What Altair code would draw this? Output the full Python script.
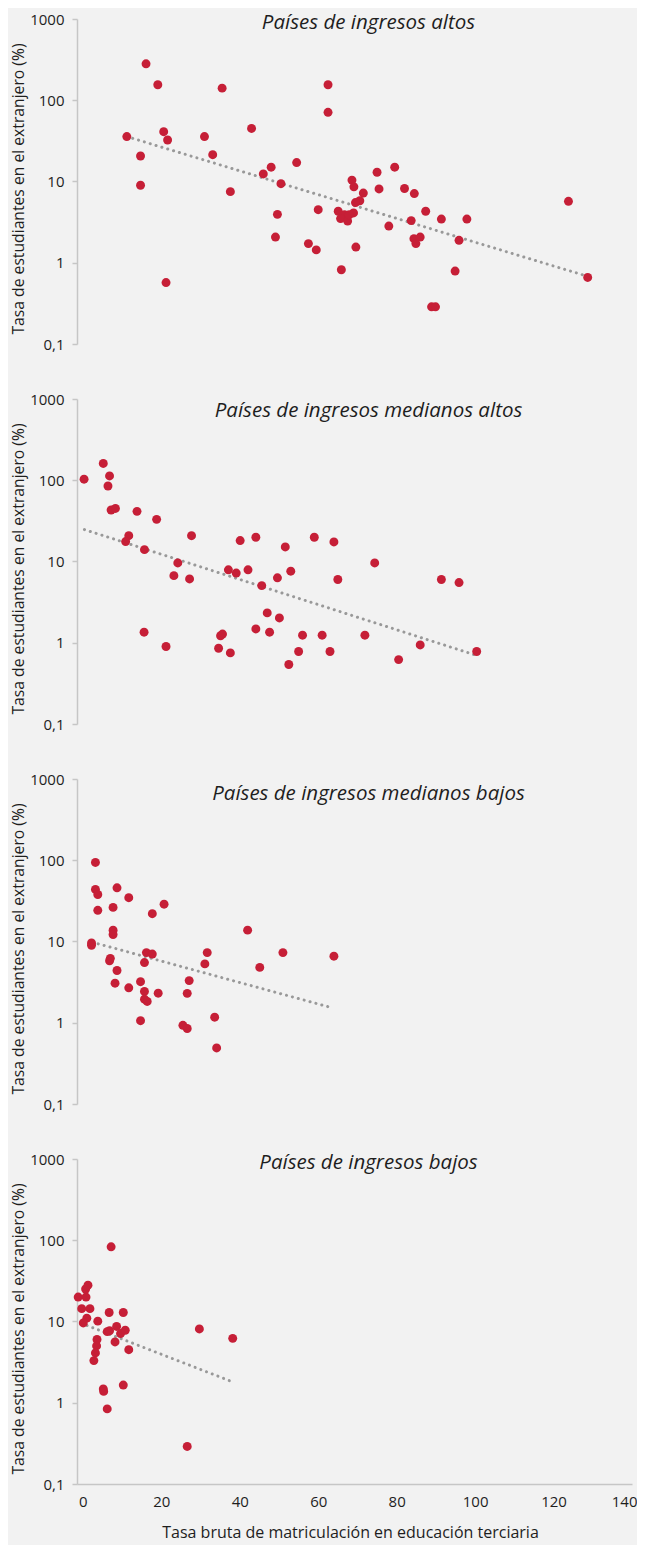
import altair as alt
import pandas as pd

# ---- data ----
titles = [
    "Países de ingresos altos",
    "Países de ingresos medianos altos",
    "Países de ingresos medianos bajos",
    "Países de ingresos bajos",
]

x_altos = [16.1, 19.1, 35.5, 62.5, 62.5, 11.2, 20.6, 21.6, 31.0, 43.0, 14.7, 33.1, 14.7, 37.6, 46.0,
           48.0, 50.5, 54.5, 49.6, 49.1, 57.5, 59.5, 60.0, 21.2, 65.9, 68.6, 69.1, 71.5, 70.6, 69.5,
           69.0, 65.1, 66.7, 65.7, 67.5, 67.9, 69.6, 75.0, 79.5, 75.5, 82.0, 84.5, 78.0, 83.7, 87.4,
           84.4, 86.0, 84.9, 91.4, 97.9, 95.9, 94.9, 88.9, 89.9, 123.8, 128.7]
y_altos = [281, 155, 141, 155, 71, 35.7, 41, 32.4, 35.7, 45, 20.6, 21.4, 9.0, 7.5, 12.4,
           15.0, 9.4, 17.1, 3.94, 2.07, 1.72, 1.44, 4.5, 0.57, 0.82, 10.4, 8.6, 7.2, 5.8, 5.5,
           4.1, 4.3, 3.9, 3.5, 3.26, 3.9, 1.56, 13.0, 15.0, 8.1, 8.2, 7.1, 2.83, 3.3, 4.3,
           1.98, 2.07, 1.72, 3.45, 3.45, 1.89, 0.79, 0.287, 0.287, 5.7, 0.66]

x_med_altos = [0.3, 5.2, 6.8, 6.4, 7.2, 8.3, 13.8, 18.8, 11.7, 10.9, 15.7, 27.7, 24.2, 23.2, 27.2,
               15.6, 21.2, 37.1, 39.1, 40.1, 42.1, 44.1, 45.6, 34.6, 35.1, 35.6, 37.6, 44.1, 47.6, 47.0,
               50.1, 49.6, 51.6, 53.0, 52.5, 55.0, 56.0, 59.0, 61.0, 63.0, 64.0, 65.0, 71.9, 74.4, 80.5,
               86.0, 91.4, 95.9, 100.4]
y_med_altos = [103, 161, 113, 85, 43, 45, 41.4, 33, 20.8, 17.6, 14.0, 20.8, 9.6, 6.7, 6.1,
               1.35, 0.90, 7.9, 7.2, 18.1, 7.9, 19.9, 5.05, 0.855, 1.22, 1.28, 0.75, 1.48, 1.35, 2.33,
               2.02, 6.3, 15.1, 7.6, 0.54, 0.78, 1.24, 19.9, 1.24, 0.78, 17.4, 6.0, 1.24, 9.6, 0.62,
               0.94, 6.0, 5.5, 0.78]

x_med_bajos = [3.2, 3.2, 3.8, 3.8, 8.7, 11.7, 7.7, 20.7, 17.7, 7.7, 7.7, 2.2, 2.2, 6.8, 7.0,
               8.7, 8.2, 11.7, 16.2, 17.7, 15.7, 14.7, 15.7, 15.7, 16.4, 19.2, 14.7, 27.1, 26.6, 31.1,
               31.7, 25.5, 26.6, 33.6, 34.1, 42.0, 45.1, 51.0, 64.0]
y_med_bajos = [94, 43.7, 37.9, 24.2, 45.8, 34.6, 26.3, 28.8, 22, 13.8, 12.2, 9.6, 9.0, 5.8, 6.2,
               4.4, 3.07, 2.69, 7.3, 7.0, 5.5, 3.2, 2.43, 1.95, 1.83, 2.31, 1.06, 3.3, 2.3, 5.3,
               7.3, 0.93, 0.85, 1.17, 0.49, 13.8, 4.8, 7.3, 6.6]

x_bajos = [-1.2, -0.3, 0.8, 0.7, 1.3, 1.8, 1.0, 0.1, 3.8, 3.6, 3.5, 3.2, 2.8, 7.2, 6.7,
           10.3, 6.2, 6.8, 8.6, 9.6, 10.8, 8.2, 11.7, 5.2, 5.3, 10.3, 6.2, 26.6, 29.7, 38.2]
y_bajos = [20.0, 14.4, 20.0, 25.1, 28.0, 14.4, 11.0, 9.6, 10.1, 6.0, 5.0, 4.1, 3.3, 83, 12.9,
           12.9, 7.5, 7.7, 8.7, 7.1, 7.8, 5.6, 4.5, 1.48, 1.38, 1.65, 0.84, 0.29, 8.1, 6.2]

# trend line end points
trend_x = [[11.2, 128.7], [0.4, 100.7], [2.4, 63.5], [-0.4, 38.4]]
trend_y = [[35.7, 0.68], [24.7, 0.69], [9.8, 1.53], [9.5, 1.79]]

y_ticks = [0.1, 1, 10, 100, 1000]
x_ticks = [0, 20, 40, 60, 80, 100, 120, 140]

x_title = "Tasa bruta de matriculación en educación terciaria"
y_title = "Tasa de estudiantes en el extranjero (%)"

RED = "#c61f37"
GREY = "#999999"
AXIS = "#c6c6c6"
TEXT = "#1e1e1e"
FONT = "Open Sans"

# baseline of each panel title, in px below the top of its plot area
title_baselines = [9.5, 17.5, 20.5, 9.5]


def panel(i, xs, ys, show_x):
    pts = pd.DataFrame({"x": xs, "y": ys})
    tr = pd.DataFrame({"x": trend_x[i], "y": trend_y[i]})
    ttl = pd.DataFrame({"t": [titles[i]]})
    xscale = alt.Scale(domain=[-1.5, 140], nice=False, zero=False)
    yscale = alt.Scale(type="log", domain=[0.1, 1000], nice=False)
    if show_x:
        xaxis = alt.Axis(values=x_ticks, title=x_title, grid=False, ticks=False,
                         domainColor=AXIS, domainWidth=1.5, labelPadding=10,
                         labelFlush=True, labelFlushOffset=5, titlePadding=15,
                         labelFontSize=15, titleFontSize=16, titleX=273)
    else:
        xaxis = None
    yaxis = alt.Axis(values=y_ticks, title=y_title, grid=False, tickSize=5,
                     tickColor=AXIS, domainColor=AXIS, domainWidth=1.5, tickWidth=1.5,
                     labelPadding=8, titlePadding=3, labelFontSize=15, titleFontSize=15.7,
                     labelFlush=False, titleY=169.5,
                     labelExpr="replace(format(datum.value, '~g'), '.', ',')")
    xenc = alt.X("x:Q", scale=xscale, axis=xaxis)
    yenc = alt.Y("y:Q", scale=yscale, axis=yaxis)
    line = alt.Chart(tr).mark_line(color=GREY, strokeWidth=3, strokeCap="round",
                                   strokeDash=[0.1, 6]).encode(x=xenc, y=yenc)
    dots = alt.Chart(pts).mark_circle(color=RED, size=80, opacity=1).encode(x=xenc, y=yenc)
    head = alt.Chart(ttl).mark_text(
        font=FONT, fontSize=20.5, fontStyle="italic", fontWeight="normal", color=TEXT,
        align="center", baseline="alphabetic",
    ).encode(text="t:N", x=alt.value(291.5), y=alt.value(title_baselines[i]))
    return alt.layer(line, dots, head).properties(width=555, height=325)


chart = alt.vconcat(
    panel(0, x_altos, y_altos, False),
    panel(1, x_med_altos, y_med_altos, False),
    panel(2, x_med_bajos, y_med_bajos, False),
    panel(3, x_bajos, y_bajos, True),
    spacing=55, bounds="flush",
).properties(
    background="#f2f2f2",
    padding={"left": 2, "top": 4, "right": 0, "bottom": 6},
).configure_view(stroke=None).configure_axis(
    labelFont=FONT, titleFont=FONT, labelColor=TEXT, titleColor=TEXT,
    titleFontWeight="normal",
)

chart.save("out.html", embed_options={"renderer": "svg", "actions": False})
